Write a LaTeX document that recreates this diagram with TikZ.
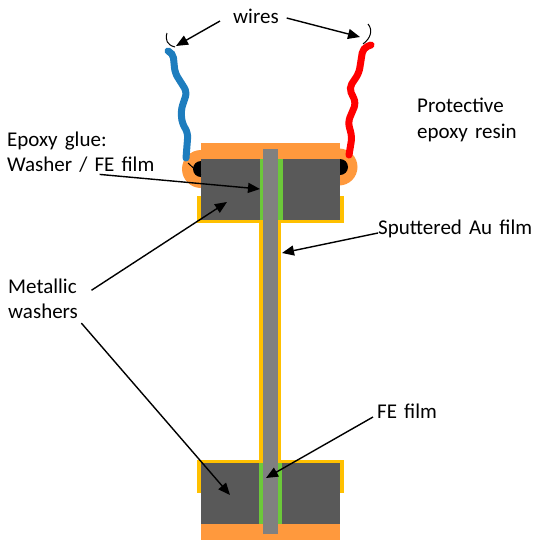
\documentclass[tikz,border=0pt]{standalone}
\usepackage{fontspec}
\setmainfont[WordSpace=1.5]{Carlito}
\usepackage{tikz}
\usetikzlibrary{
    arrows.meta,
    positioning
}
\definecolor{resin}{RGB}{255,153,61}
\definecolor{washergray}{RGB}{89,89,89}
\definecolor{filmgray}{RGB}{128,128,128}
\definecolor{goldfilm}{RGB}{255,192,0}
\definecolor{glue}{RGB}{108,200,58}
\definecolor{wireblue}{RGB}{30,125,190}
\begin{document}
\begin{tikzpicture}[
    x=1pt,
    y=-1pt,
    label/.style={
        align=left,
        inner sep=0pt,
        anchor=west,
        font=\fontsize{21}{25.5}\selectfont
    },
    arrow/.style={
        -{Triangle[length=12pt,width=10pt]},
        line width=1.4pt
    },
    wire/.style={
        line width=7pt,
        rounded corners=5pt,
        line cap=round
    },
    lead/.style={
        line width=1pt,
        black
    }
]
\useasboundingbox (0,0) rectangle (536,550);

% Resin
\fill[resin] (201,169) circle (19pt);
\fill[resin] (339,167) circle (18.5pt);
\fill[resin] (201,143) rectangle (340,159);
\fill[resin] (201,524) rectangle (340,540);

% Gold film
\fill[goldfilm] (197,196) rectangle (344,223);
\fill[goldfilm] (259,220) rectangle (281,462);
\fill[goldfilm] (197,460) rectangle (344,493);

% Solder
\fill[black] (201,169) circle (8pt);
\fill[black] (340,167) circle (8pt);

% Washers
\fill[washergray] (201,159) rectangle (340,220);
\fill[washergray] (201,463) rectangle (340,524);

% Glue and film
\fill[glue] (260,159) rectangle (283,220);
\fill[glue] (259,463) rectangle (282,524);
\fill[filmgray] (263,149) rectangle (278,534);

% Wires
\draw[lead] (167,33) .. controls (165,40) and (167,45) .. (175,47);
\draw[lead] (368,24) .. controls (373,30) and (371,38) .. (363,44);
\draw[lead] (188,163) -- (201,175);
\draw[wire, wireblue] (168,51) -- (173,53) -- (175,73) -- (187,92) -- (181,110) -- (182,123) -- (188,133) -- (186,158);
\draw[wire, red] (371,45) -- (363,48) -- (359,73) -- (349,88) -- (356,103) -- (348,122) -- (352,137) -- (349,155);

% Labels
\node[label] (wires) at (233,16) {wires};
\node[label] (resinlabel) at (417,120) {Protective\\epoxy resin};
\node[label] (epoxy) at (7,152) {Epoxy glue:\\Washer / FE film};
\node[label] (metallic) at (8,299) {Metallic\\washers};
\node[label] (sputtered) at (378,229) {Sputtered Au film};
\node[label] (fefilm) at (377,411) {FE film};

\coordinate (wireleft) at (176,46);
\coordinate (wireright) at (360,37);
\coordinate (glueleft) at (260,189);
\coordinate (washertop) at (227,202);
\coordinate (washerbottom) at (230,495);
\coordinate (goldstem) at (282,253);
\coordinate (filmtip) at (266,478);

\draw[arrow] ([xshift=-13pt,yshift=-5pt]wires.west) -- (wireleft);
\draw[arrow, shorten <=8pt] (wires.east) -- (wireright);
\draw[arrow, shorten <=19pt] (epoxy.south) -- (glueleft);
\draw[arrow, shorten <=16pt] (metallic.east) -- (washertop);
\draw[arrow, shorten <=5pt] (metallic.south east) -- (washerbottom);
\draw[arrow] ([yshift=-4pt]sputtered.west) -- (goldstem);
\draw[arrow] ([xshift=-4pt,yshift=-6pt]fefilm.west) -- (filmtip);

\end{tikzpicture}
\end{document}
